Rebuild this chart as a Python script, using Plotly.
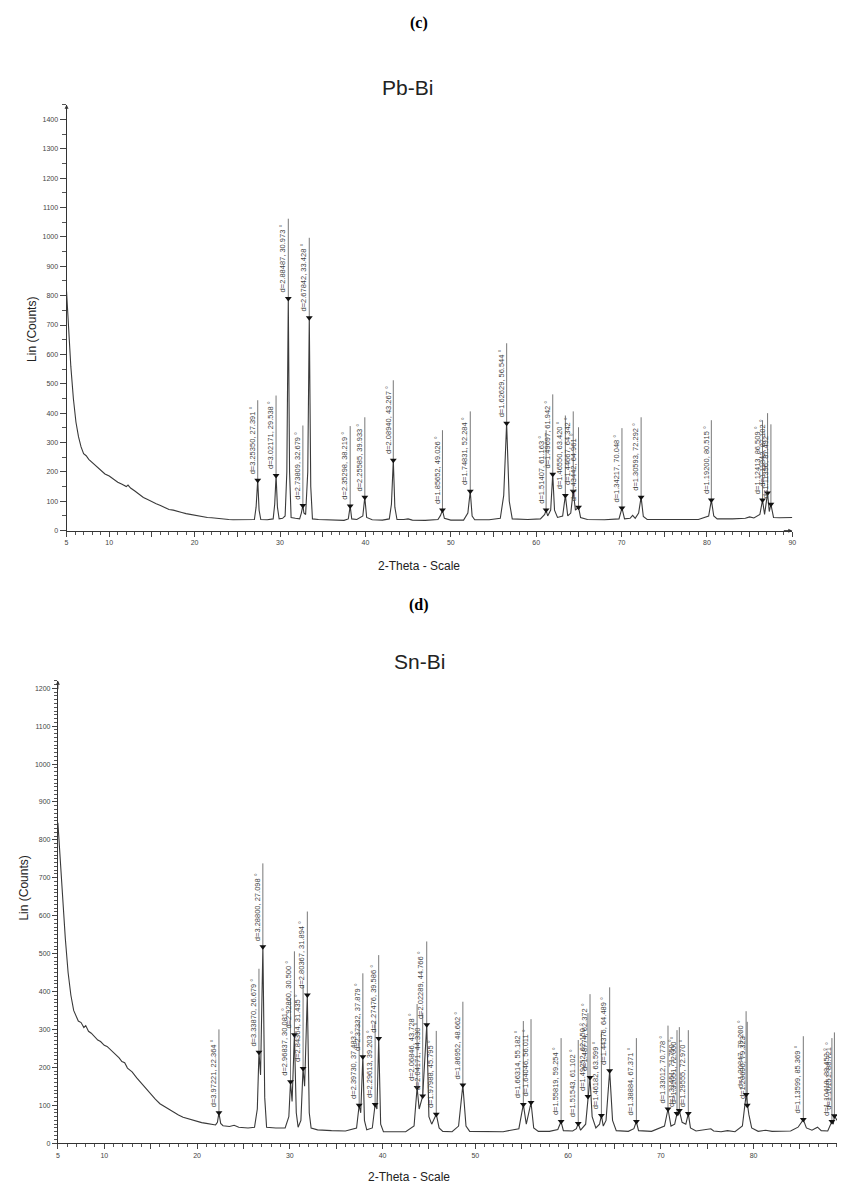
import plotly.graph_objects as go

# ---------------- Pb-Bi (c) ----------------
pb_tt = [5.0, 5.2, 5.5, 5.8, 6.1, 6.4, 6.7, 7.0, 7.3, 7.6, 8.0, 8.5, 9.0, 9.5, 10.0, 10.5, 11.0, 11.5,
         12.0, 12.2, 12.5, 13.0, 13.5, 14.0, 14.5, 15.0, 15.5, 16.0, 16.5, 17.0, 17.5, 18.0, 18.5, 19.0,
         19.5, 20.0, 20.5, 21.0, 21.5, 22.0, 22.5, 23.0, 23.5, 24.0, 24.5, 25.0, 25.5, 26.0, 26.5, 27.0,
         27.2, 27.39, 27.55, 27.75, 28.5, 29.2, 29.38, 29.54, 29.7, 29.9, 30.3, 30.6, 30.8, 30.97, 31.12,
         31.3, 31.8, 32.3, 32.5, 32.68, 32.8, 33.0, 33.25, 33.43, 33.6, 33.8, 34.5, 35.5, 36.5, 37.5, 38.0,
         38.22, 38.4, 39.0, 39.7, 39.93, 40.15, 40.8, 42.0, 42.8, 43.05, 43.27, 43.45, 43.7, 44.5, 45.0,
         45.5, 47.0, 48.5, 48.8, 49.03, 49.25, 50.0, 51.5, 52.0, 52.28, 52.5, 52.8, 54.5, 55.8, 56.2,
         56.54, 56.85, 57.2, 59.0, 60.5, 61.0, 61.16, 61.35, 61.7, 61.94, 62.15, 62.5, 63.1, 63.42, 63.7,
         64.05, 64.34, 64.6, 64.96, 65.2, 66.0, 68.0, 69.7, 70.05, 70.35, 71.0, 71.3, 71.6, 72.0, 72.29,
         72.55, 73.0, 76.0, 79.0, 80.2, 80.52, 80.8, 81.2, 83.0, 84.5, 85.0, 85.5, 86.2, 86.51, 86.75,
         87.1, 87.3, 87.49, 87.8, 88.5, 90.0]
pb_counts = [815, 700, 560, 450, 370, 320, 285, 262, 255, 243, 232, 218, 205, 193, 186, 175, 165, 158,
             150, 155, 145, 135, 124, 113, 106, 98, 92, 86, 80, 72, 70, 65, 62, 58,
             55, 52, 49, 47, 45, 44, 42, 41, 40, 38, 37, 37, 36, 36, 36, 38,
             80, 172, 70, 38, 37, 40, 90, 188, 80, 40, 42, 50, 200, 790, 200,
             45, 42, 40, 60, 86, 60, 55, 200, 725, 150, 40, 38, 37, 36, 35, 40,
             84, 40, 38, 50, 114, 45, 37, 36, 40, 90, 240, 80, 38, 38, 40,
             36, 35, 38, 52, 70, 42, 36, 36, 60, 134, 50, 37, 37, 42, 120,
             366, 100, 40, 38, 40, 55, 70, 50, 70, 192, 70, 45, 50, 120, 50,
             60, 134, 70, 80, 45, 38, 37, 40, 77, 40, 42, 52, 42, 60, 114,
             48, 38, 37, 38, 50, 104, 50, 40, 40, 42, 47, 43, 55, 104, 55,
             128, 65, 90, 45, 44, 45]

pb_peak_tt = [27.391, 29.538, 30.973, 32.679, 33.428, 38.219, 39.933, 43.267, 49.026, 52.284, 56.544,
              61.163, 61.942, 63.420, 64.342, 64.961, 70.048, 72.292, 80.515, 86.509, 87.102, 87.492]
pb_peak_d = ["3.25350", "3.02171", "2.88487", "2.73809", "2.67842", "2.35298", "2.25585", "2.08940",
             "1.85652", "1.74831", "1.62629", "1.51407", "1.49697", "1.46550", "1.44667", "1.43442",
             "1.34217", "1.30593", "1.19200", "1.12413", "1.11842", "1.11396"]
pb_peak_h = [172, 188, 790, 86, 725, 84, 114, 240, 70, 134, 366,
             70, 192, 120, 134, 80, 77, 114, 104, 104, 128, 90]

# ---------------- Sn-Bi (d) ----------------
sn_tt = [5.0, 5.2, 5.5, 5.8, 6.1, 6.4, 6.7, 7.0, 7.2, 7.5, 7.8, 8.0, 8.3, 8.6, 9.0, 9.3, 9.6, 10.0,
         10.3, 10.6, 11.0, 11.3, 11.6, 11.9, 12.2, 12.5, 12.8, 13.0, 13.5, 14.0, 14.5, 15.0, 15.5, 16.0,
         16.5, 17.0, 17.5, 18.0, 18.5, 19.0, 19.5, 20.0, 20.5, 21.0, 21.5, 22.0, 22.2, 22.36, 22.55, 22.8,
         23.5, 24.0, 24.5, 25.5, 26.2, 26.5, 26.68, 26.85, 27.1, 27.3, 27.5, 28.5, 29.5, 29.9, 30.08,
         30.25, 30.5, 30.7, 30.9, 31.2, 31.43, 31.6, 31.89, 32.1, 32.3, 33.0, 34.5, 36.0, 37.2, 37.48,
         37.65, 37.88, 38.05, 38.3, 38.9, 39.2, 39.4, 39.59, 39.8, 40.1, 41.0, 42.5, 43.4, 43.73, 43.95,
         44.33, 44.77, 45.0, 45.3, 45.8, 46.1, 46.5, 47.5, 48.2, 48.66, 49.0, 49.4, 51.0, 53.0, 54.7,
         55.18, 55.5, 56.01, 56.3, 56.8, 58.0, 58.9, 59.25, 59.5, 60.5, 60.9, 61.1, 61.35, 61.9, 62.15,
         62.37, 62.6, 63.0, 63.4, 63.6, 63.8, 64.1, 64.49, 64.8, 65.2, 66.5, 67.1, 67.37, 67.6, 69.0,
         70.4, 70.78, 71.1, 71.5, 71.75, 71.9, 72.0, 72.3, 72.7, 72.97, 73.2, 73.8, 75.4, 75.7, 76.5,
         77.2, 78.0, 78.8, 79.2, 79.32, 79.5, 79.8, 80.5, 81.3, 82.0, 84.0, 84.8, 85.37, 85.7, 86.3,
         86.9, 87.3, 88.0, 88.45, 88.6, 88.72, 89.0]
sn_counts = [845, 760, 640, 540, 450, 390, 350, 330, 322, 318, 305, 310, 295, 290, 280, 272, 268, 258,
             255, 248, 240, 232, 225, 215, 212, 198, 192, 188, 172, 158, 143, 128, 116, 104,
             96, 88, 80, 74, 68, 64, 60, 57, 54, 52, 50, 48, 55, 80, 52, 46,
             44, 47, 42, 40, 42, 90, 240, 180, 518, 120, 42, 40, 40, 70, 162,
             110, 286, 80, 42, 60, 197, 150, 391, 80, 40, 35, 33, 32, 40, 100,
             80, 228, 60, 35, 40, 102, 90, 276, 50, 30, 30, 30, 45, 147, 90,
             124, 312, 70, 50, 76, 40, 31, 30, 45, 153, 45, 31, 31, 30, 38,
             102, 50, 107, 40, 31, 31, 36, 57, 33, 32, 38, 52, 34, 50, 123,
             173, 70, 40, 50, 73, 45, 60, 191, 60, 33, 31, 38, 57, 33, 31,
             45, 90, 45, 50, 78, 75, 86, 55, 50, 78, 40, 32, 38, 32, 30,
             33, 30, 45, 128, 100, 75, 40, 31, 34, 31, 32, 42, 62, 40, 34,
             42, 33, 32, 57, 50, 72, 60]

sn_peak_tt = [22.364, 26.679, 27.098, 30.081, 30.500, 31.435, 31.894, 37.483, 37.879, 39.203, 39.586,
              43.728, 44.330, 44.766, 45.795, 48.662, 55.182, 56.011, 59.254, 61.102, 62.150, 62.372,
              63.599, 64.489, 67.371, 70.778, 71.750, 72.000, 72.970, 79.200, 79.323, 85.369, 88.452,
              88.721]
sn_peak_d = ["3.97221", "3.33870", "3.28800", "2.96837", "2.92860", "2.84364", "2.80367", "2.39730",
             "2.37332", "2.29613", "2.27476", "2.06846", "2.04171", "2.02289", "1.97988", "1.86952",
             "1.66314", "1.64046", "1.55819", "1.51543", "1.49252", "1.48774", "1.46182", "1.44376",
             "1.38884", "1.33012", "1.31451", "1.31051", "1.29555", "1.20847", "1.20690", "1.13599",
             "1.10418", "1.10151"]
sn_peak_h = [80, 240, 518, 162, 286, 197, 391, 100, 228, 102, 276,
             147, 124, 312, 76, 153, 102, 107, 57, 52, 123, 173,
             73, 191, 57, 90, 78, 86, 78, 128, 100, 62, 57, 72]

pb_yticks = list(range(0, 1401, 100))
sn_yticks = list(range(0, 1201, 100))
x_tickvals = [5, 10, 15, 20, 25, 30, 35, 40, 45, 50, 55, 60, 65, 70, 75, 80, 85, 90]
x_ticktext = ["5", "10", "", "20", "", "30", "", "40", "", "50", "", "60", "", "70", "", "80", "", "90"]

W, H = 841, 1191
LINE_C = "#3a3a3a"
TXT_C = "#444444"

fig = go.Figure()


def add_panel(tt, counts, ptt, pd, ph, xa, ya, label_len):
    fig.add_trace(go.Scatter(x=tt, y=counts, mode="lines", xaxis=xa, yaxis=ya,
                             line=dict(color=LINE_C, width=1.1), hoverinfo="skip"))
    lx, ly = [], []
    for p, h in zip(ptt, ph):
        lx += [p, p, None]
        ly += [h, h + label_len, None]
    fig.add_trace(go.Scatter(x=lx, y=ly, mode="lines", xaxis=xa, yaxis=ya,
                             line=dict(color="#555555", width=0.8), hoverinfo="skip"))
    fig.add_trace(go.Scatter(x=ptt, y=ph, mode="markers", xaxis=xa, yaxis=ya,
                             marker=dict(symbol="triangle-down", size=6, color="#111111"),
                             hoverinfo="skip"))
    xr = "x" if xa == "x" else "x2"
    yr = "y" if ya == "y" else "y2"
    for p, d, h in zip(ptt, pd, ph):
        fig.add_annotation(x=p, y=h, xref=xr, yref=yr, text=f"d={d}, {p:.3f} °",
                           textangle=-90, xanchor="right", yanchor="bottom", yshift=5, xshift=0,
                           showarrow=False, borderpad=0,
                           font=dict(family="Liberation Sans, Arial", size=7.5, color=TXT_C))


add_panel(pb_tt, pb_counts, pb_peak_tt, pb_peak_d, pb_peak_h, "x", "y", 272)
add_panel(sn_tt, sn_counts, sn_peak_tt, sn_peak_d, sn_peak_h, "x2", "y2", 220)

axis_common = dict(showline=True, linecolor="#333333", linewidth=1, showgrid=False, zeroline=False,
                   ticks="outside", tickcolor="#444444", tickwidth=1,
                   tickfont=dict(family="Liberation Sans, Arial", size=7, color=TXT_C))

fig.update_layout(
    width=W, height=H, margin=dict(l=0, r=0, t=0, b=0),
    paper_bgcolor="white", plot_bgcolor="white", showlegend=False,
    xaxis=dict(domain=[65 / W, 796 / W], range=[5, 90], anchor="y",
               tickmode="array", tickvals=x_tickvals, ticktext=x_ticktext, ticklen=5,
               minor=dict(tickmode="linear", tick0=0, dtick=1, ticklen=3, ticks="outside",
                          tickcolor="#555555"),
               **axis_common),
    yaxis=dict(domain=[1 - 532 / H, 1 - 105 / H], range=[0, 1450], anchor="x",
               tickmode="array", tickvals=pb_yticks, ticklen=6,
               minor=dict(tickmode="linear", tick0=0, dtick=50, ticklen=4, ticks="outside",
                          tickcolor="#555555"),
               **axis_common),
    xaxis2=dict(domain=[56.3 / W, 1.0], range=[5, 89.0], anchor="y2",
                tickmode="array", tickvals=x_tickvals, ticktext=x_ticktext, ticklen=5,
                minor=dict(tickmode="linear", tick0=0, dtick=1, ticklen=3, ticks="outside",
                           tickcolor="#555555"),
                **axis_common),
    yaxis2=dict(domain=[1 - 1146 / H, 1 - 682.4 / H], range=[0, 1220], anchor="x2",
                tickmode="array", tickvals=sn_yticks, ticklen=5,
                minor=dict(tickmode="linear", tick0=0, dtick=10, ticklen=3, ticks="outside",
                           tickcolor="#555555"),
                **axis_common),
)

# axis-end arrows
for xr, yr, x, y, ax, ay in [("x", "y", 5, 1450, 0, 10), ("x", "y", 90, 0, -10, 0),
                             ("x2", "y2", 5, 1220, 0, 10)]:
    fig.add_annotation(x=x, y=y, xref=xr, yref=yr, ax=ax, ay=ay, axref="pixel", ayref="pixel",
                       showarrow=True, arrowhead=2, arrowsize=0.8, arrowwidth=1,
                       arrowcolor="#333333", text="")


def paper_text(text, x, y, size, family, angle=0, color="#222222"):
    fig.add_annotation(x=x / W, y=1 - y / H, xref="paper", yref="paper", text=text,
                       showarrow=False, textangle=angle, xanchor="center", yanchor="middle",
                       font=dict(family=family, size=size, color=color))


paper_text("<b>(c)</b>", 420, 23, 16, "Liberation Serif, Times New Roman", color="#000000")
paper_text("Pb-Bi", 408, 88, 21, "Liberation Sans, Arial")
paper_text("2-Theta - Scale", 420, 567, 12, "Liberation Sans, Arial")
paper_text("Lin (Counts)", 30, 330, 12, "Liberation Sans, Arial", angle=-90)
paper_text("<b>(d)</b>", 420, 607, 16, "Liberation Serif, Times New Roman", color="#000000")
paper_text("Sn-Bi", 420, 663, 21, "Liberation Sans, Arial")
paper_text("2-Theta - Scale", 410, 1180, 12, "Liberation Sans, Arial")
paper_text("Lin (Counts)", 22, 890, 12, "Liberation Sans, Arial", angle=-90)

fig.write_html("out.html", config={"displayModeBar": False},
               post_script="document.body.style.margin='0';document.body.style.overflow='hidden';")
